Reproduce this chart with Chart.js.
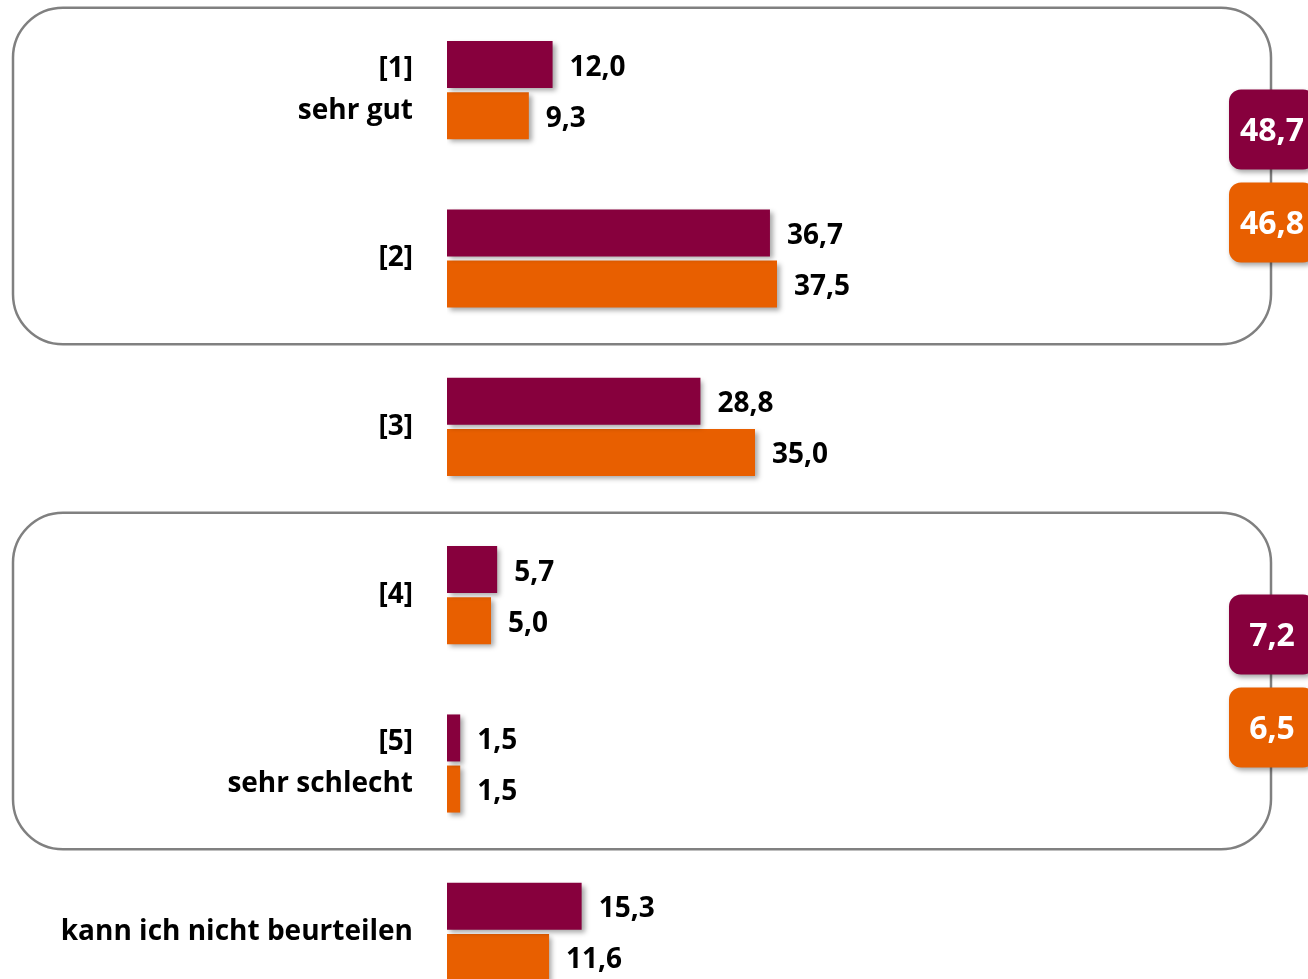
<!DOCTYPE html>
<html>
<head>
<meta charset="utf-8">
<script src="https://cdn.jsdelivr.net/npm/chart.js@4.4.1/dist/chart.umd.min.js"></script>
<style>
  html, body { margin: 0; padding: 0; background: #ffffff; overflow: hidden; }
  #wrap { position: relative; width: 1308px; height: 1016px; }
</style>
</head>
<body>
<div id="wrap"><canvas id="chart"></canvas></div>
<script>
//Categories and values
const categories = [["[1]", "sehr gut"], "[2]", "[3]", "[4]", ["[5]", "sehr schlecht"], "kann ich nicht beurteilen"];
const seriesA = [12.0, 36.7, 28.8, 5.7, 1.5, 15.3];
const seriesB = [9.3, 37.5, 35.0, 5.0, 1.5, 11.6];

//Summary boxes on the right (top two and bottom two)
const topTwo = [48.7, 46.8];
const bottomTwo = [7.2, 6.5];

const colorA = "#87003D";
const colorB = "#E85F00";
const fontFamily = "'Open Sans', sans-serif";

function fmt(v) {
  return v.toFixed(1).replace(".", ",");
}

function roundRect(ctx, x, y, w, h, r) {
  ctx.beginPath();
  ctx.moveTo(x + r, y);
  ctx.lineTo(x + w - r, y);
  ctx.arcTo(x + w, y, x + w, y + r, r);
  ctx.lineTo(x + w, y + h - r);
  ctx.arcTo(x + w, y + h, x + w - r, y + h, r);
  ctx.lineTo(x + r, y + h);
  ctx.arcTo(x, y + h, x, y + h - r, r);
  ctx.lineTo(x, y + r);
  ctx.arcTo(x, y, x + r, y, r);
  ctx.closePath();
}

//Outlined groups: [first category, last category, summary values]
const groups = [[0, 1, topTwo], [3, 4, bottomTwo]];

const groupBoxes = {
  id: "groupBoxes",
  beforeDatasetsDraw(chart) {
    const ctx = chart.ctx;
    const y = chart.scales.y;
    const pitch = y.getPixelForValue(1) - y.getPixelForValue(0);
    ctx.save();
    ctx.strokeStyle = "#808080";
    ctx.lineWidth = 2.5;
    groups.forEach(g => {
      const top = y.getPixelForValue(g[0]) - pitch * 0.49;
      const bottom = y.getPixelForValue(g[1]) + pitch * 0.51;
      roundRect(ctx, 13, top, chart.width - 37 - 13, bottom - top, 50);
      ctx.stroke();
    });
    ctx.restore();
    //shadow for the bars
    ctx.save();
    ctx.shadowColor = "rgba(0,0,0,0.35)";
    ctx.shadowBlur = 5;
    ctx.shadowOffsetX = 3;
    ctx.shadowOffsetY = 3;
  },
  afterDatasetsDraw(chart) {
    const ctx = chart.ctx;
    ctx.restore();

    //Value labels next to the bars
    ctx.save();
    ctx.font = "bold 28px " + fontFamily;
    ctx.fillStyle = "#000000";
    ctx.textAlign = "left";
    ctx.textBaseline = "middle";
    chart.data.datasets.forEach((ds, i) => {
      chart.getDatasetMeta(i).data.forEach((bar, j) => {
        ctx.fillText(fmt(ds.data[j]), bar.x + 17, bar.y + 3);
      });
    });
    ctx.restore();

    //Summary boxes on the right edge of each group
    const y = chart.scales.y;
    const pitch = y.getPixelForValue(1) - y.getPixelForValue(0);
    groups.forEach(g => {
      const top = y.getPixelForValue(g[0]) - pitch * 0.49;
      const bottom = y.getPixelForValue(g[1]) + pitch * 0.51;
      const mid = (top + bottom) / 2;
      const bx = chart.width - 37 - 42;
      const bw = 86, bh = 80, gap = 13;
      [colorA, colorB].forEach((c, k) => {
        const by = k === 0 ? mid - gap / 2 - bh : mid + gap / 2;
        ctx.save();
        ctx.shadowColor = "rgba(0,0,0,0.35)";
        ctx.shadowBlur = 5;
        ctx.shadowOffsetX = 2;
        ctx.shadowOffsetY = 3;
        ctx.fillStyle = c;
        roundRect(ctx, bx, by, bw, bh, 12);
        ctx.fill();
        ctx.restore();
        ctx.save();
        ctx.font = "bold 32px " + fontFamily;
        ctx.fillStyle = "#ffffff";
        ctx.textAlign = "center";
        ctx.textBaseline = "middle";
        ctx.fillText(fmt(g[2][k]), bx + 43, by + bh / 2 + 2);
        ctx.restore();
      });
    });
  }
};

new Chart(document.getElementById("chart"), {
  type: "bar",
  data: {
    labels: categories,
    datasets: [
      { data: seriesA, backgroundColor: colorA, categoryPercentage: 0.607, barPercentage: 0.92 },
      { data: seriesB, backgroundColor: colorB, categoryPercentage: 0.607, barPercentage: 0.92 }
    ]
  },
  options: {
    indexAxis: "y",
    responsive: true,
    maintainAspectRatio: false,
    animation: false,
    layout: { padding: { top: 6, right: 69, bottom: 0, left: 0 } },
    plugins: {
      legend: { display: false },
      tooltip: { enabled: false }
    },
    scales: {
      x: {
        display: false,
        min: 0,
        max: 90
      },
      y: {
        //fixed axis width and no extra label padding above/below
        afterFit: (scale) => {
          scale.width = 447;
          scale.paddingTop = 0;
          scale.paddingBottom = 0;
        },
        grid: { display: false, drawTicks: false },
        border: { display: false },
        ticks: {
          padding: 34,
          color: "#000000",
          font: { family: fontFamily, size: 28, weight: "bold", lineHeight: 1.5 }
        }
      }
    }
  },
  plugins: [groupBoxes]
});
</script>
</body>
</html>
